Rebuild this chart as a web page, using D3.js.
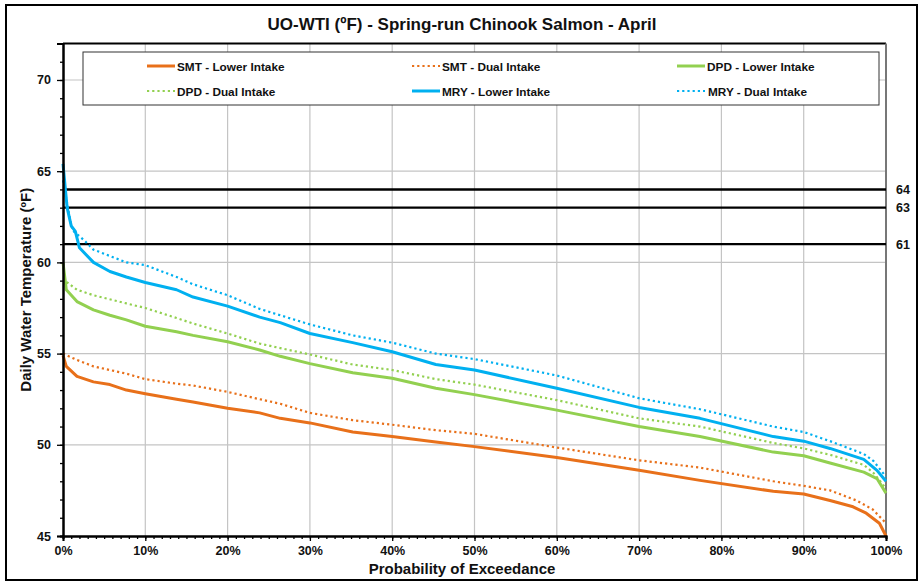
<!DOCTYPE html>
<html>
<head>
<meta charset="utf-8">
<script src="https://cdn.jsdelivr.net/npm/d3@7"></script>
<style>
  body { margin: 0; background: #fff; }
  svg { font-family: "Liberation Sans", Arial, sans-serif; font-weight: bold; }
</style>
</head>
<body>
<svg width="922" height="585"></svg>
<script>
var title = "UO-WTI (ºF) - Spring-run Chinook Salmon - April"
var xTitle = "Probability of Exceedance"
var yTitle = "Daily Water Temperature (ºF)"

// [probability of exceedance %, temperature ºF]
var smtLower = [[0,54.9],[0.4,54.3],[1.7,53.75],[3.7,53.45],[5.7,53.3],[7.7,53.0],[10,52.8],[13.8,52.5],[15.8,52.35],[20,52.0],[23.9,51.75],[26.4,51.45],[30,51.2],[35.2,50.7],[40,50.45],[45.3,50.15],[50,49.9],[60,49.3],[70,48.6],[77.4,48.05],[86.3,47.45],[90,47.3],[93.2,46.95],[96,46.6],[97.6,46.25],[99.2,45.7],[100,45.0]]
var smtDual = [[0,55.0],[1.7,54.65],[3.7,54.3],[7.7,53.9],[10,53.6],[13.8,53.35],[15.8,53.25],[20,52.9],[23.9,52.5],[26.4,52.25],[30,51.75],[35.2,51.35],[40,51.1],[45.3,50.8],[50,50.6],[60,49.85],[70,49.15],[77.4,48.75],[86.3,48.0],[90,47.75],[93.2,47.5],[96.4,46.95],[98.4,46.45],[100,45.7]]
var dpdLower = [[0,60.0],[0.4,58.5],[1.7,57.85],[3.7,57.4],[5.7,57.1],[7.7,56.85],[10,56.5],[13.8,56.2],[15.8,56.0],[20,55.65],[23.9,55.2],[26.4,54.85],[30,54.45],[35.2,53.95],[40,53.65],[45.3,53.1],[50,52.75],[60,51.9],[70,51.0],[77.4,50.45],[86.3,49.6],[90,49.4],[93.2,49.0],[97.3,48.5],[98.9,48.15],[100,47.35]]
var dpdDual = [[0,60.0],[0.2,59.0],[1.7,58.5],[3.7,58.2],[7.7,57.75],[10,57.5],[13.8,56.95],[15.8,56.65],[20,56.1],[23.9,55.55],[26.4,55.3],[30,54.95],[35.2,54.4],[40,54.1],[45.3,53.6],[50,53.3],[60,52.45],[70,51.45],[77.4,51.0],[86.3,50.1],[90,49.8],[93.2,49.45],[97.3,48.9],[98.5,48.45],[100,47.6]]
var mryLower = [[0,65.4],[0.5,63.0],[1,62.0],[1.5,61.7],[2,60.8],[3.7,60.0],[5.7,59.5],[7.7,59.2],[10,58.9],[13.8,58.5],[15.8,58.1],[20,57.6],[23.9,57.0],[26.4,56.7],[30,56.1],[35.2,55.6],[40,55.1],[45.3,54.4],[50,54.1],[60,53.1],[70,52.05],[77.4,51.45],[86.3,50.45],[90,50.2],[93.2,49.8],[97.3,49.2],[98.9,48.6],[100,48.0]]
var mryDual = [[0,64.5],[1,62.0],[1.3,61.7],[2.6,61.2],[3.7,60.7],[7.7,60.0],[10,59.85],[13.8,59.2],[15.8,58.8],[20,58.2],[23.9,57.45],[26.4,57.1],[30,56.6],[35.2,56.0],[40,55.6],[45.3,55.0],[50,54.7],[60,53.8],[70,52.55],[77.4,51.95],[86.3,51.0],[90,50.7],[93.2,50.2],[97.3,49.5],[98.5,49.1],[100,48.25]]

var seriesNames = ["SMT - Lower Intake", "SMT - Dual Intake", "DPD - Lower Intake", "DPD - Dual Intake", "MRY - Lower Intake", "MRY - Dual Intake"]
var seriesData = [smtLower, smtDual, dpdLower, dpdDual, mryLower, mryDual]
var seriesColors = ["#E8701A", "#E8701A", "#92D050", "#92D050", "#00B0F0", "#00B0F0"]
var seriesDotted = [false, true, false, true, false, true]

var thresholds = [64, 63, 61]
var xTicks = [0, 10, 20, 30, 40, 50, 60, 70, 80, 90, 100]
var yTicks = [45, 50, 55, 60, 65, 70]

var W = 922, H = 585
var margin = { top: 43.5, right: 36, bottom: 49, left: 63 }
var pw = W - margin.left - margin.right
var ph = H - margin.top - margin.bottom

var svg = d3.select("svg")

// chart border
svg.append("rect").attr("x", 6).attr("y", 5).attr("width", 911).attr("height", 575)
  .attr("fill", "#fff").attr("stroke", "#000").attr("stroke-width", 2)

var g = svg.append("g").attr("transform", "translate(" + margin.left + "," + margin.top + ")")

var x = d3.scaleLinear().domain([0, 100]).range([0, pw])
var y = d3.scaleLinear().domain([45, 72]).range([ph, 0])

// grid
g.selectAll(".vgrid").data(xTicks.slice(1, -1)).enter().append("line")
  .attr("x1", function(d) { return x(d) }).attr("x2", function(d) { return x(d) })
  .attr("y1", 0).attr("y2", ph).attr("stroke", "#c4c4c4").attr("stroke-width", 1.2)
g.selectAll(".hgrid").data(yTicks.slice(1)).enter().append("line")
  .attr("x1", 0).attr("x2", pw)
  .attr("y1", function(d) { return y(d) }).attr("y2", function(d) { return y(d) })
  .attr("stroke", "#c4c4c4").attr("stroke-width", 1.2)

// plot frame: top black, right grey
g.append("line").attr("x1", 0).attr("x2", pw).attr("y1", 0).attr("y2", 0)
  .attr("stroke", "#000").attr("stroke-width", 2)
g.append("line").attr("x1", pw).attr("x2", pw).attr("y1", 0).attr("y2", ph)
  .attr("stroke", "#777").attr("stroke-width", 2)

// legend
var legend = g.append("g")
legend.append("rect").attr("x", 83 - margin.left).attr("y", 52 - margin.top)
  .attr("width", 796).attr("height", 53).attr("fill", "#fff").attr("stroke", "#333").attr("stroke-width", 1)
var legCols = [147, 412, 677], legRows = [66, 91]
var legItems = legend.selectAll(".leg").data(seriesNames).enter().append("g")
  .attr("transform", function(d, i) {
    return "translate(" + (legCols[i % 3] - margin.left) + "," + (legRows[Math.floor(i / 3)] - margin.top) + ")"
  })
legItems.append("line").attr("x1", 0).attr("x2", 28).attr("y1", 0).attr("y2", 0)
  .attr("stroke", function(d, i) { return seriesColors[i] })
  .attr("stroke-width", function(d, i) { return seriesDotted[i] ? 2.2 : 3 })
  .attr("stroke-dasharray", function(d, i) { return seriesDotted[i] ? "2.2,3" : null })
legItems.append("text").attr("x", function(d, i) { return i == 5 ? 31 : 30 }).attr("y", 4.5)
  .attr("font-size", 11.8).attr("fill", "#111").text(function(d) { return d })

// threshold lines
g.selectAll(".thr").data(thresholds).enter().append("line")
  .attr("x1", 0).attr("x2", pw)
  .attr("y1", function(d) { return y(d) }).attr("y2", function(d) { return y(d) })
  .attr("stroke", "#000").attr("stroke-width", 2.4)
g.selectAll(".thrl").data(thresholds).enter().append("text")
  .attr("x", pw + 10).attr("y", function(d) { return y(d) + 4.5 })
  .attr("font-size", 12.5).attr("fill", "#111").text(function(d) { return d })

// series
var line = d3.line().x(function(d) { return x(d[0]) }).y(function(d) { return y(d[1]) })
var order = [1, 3, 5, 0, 2, 4]
g.selectAll(".series").data(order).enter().append("path")
  .attr("d", function(i) { return line(seriesData[i]) })
  .attr("fill", "none")
  .attr("stroke", function(i) { return seriesColors[i] })
  .attr("stroke-width", function(i) { return seriesDotted[i] ? 2.2 : 3 })
  .attr("stroke-dasharray", function(i) { return seriesDotted[i] ? "2.2,3" : null })
  .attr("stroke-linejoin", "round")

// axes
var xAxis = d3.axisBottom(x).tickValues(xTicks).tickSize(5).tickPadding(5)
  .tickFormat(function(d) { return d + "%" })
var xMinor = d3.axisBottom(x).tickValues(d3.range(0, 101, 1)).tickSize(3).tickFormat("")
var yAxis = d3.axisLeft(y).tickValues(yTicks).tickSize(6).tickPadding(6)
var yMinor = d3.axisLeft(y).tickValues(d3.range(45, 73, 1)).tickSize(3).tickFormat("")

function styleAxis(sel) {
  sel.select(".domain").attr("stroke", "#000").attr("stroke-width", 2)
  sel.selectAll(".tick line").attr("stroke", "#000").attr("stroke-width", 1.3)
  sel.selectAll("text").attr("font-size", 12.5).attr("font-weight", "bold")
    .attr("font-family", "Liberation Sans, Arial, sans-serif").attr("fill", "#111")
}
g.append("g").attr("transform", "translate(0," + ph + ")").call(xMinor).call(styleAxis)
g.append("g").attr("transform", "translate(0," + ph + ")").call(xAxis).call(styleAxis)
g.append("g").call(yMinor).call(styleAxis)
g.append("g").call(yAxis).call(styleAxis)

// titles
svg.append("text").attr("x", 462).attr("y", 30).attr("text-anchor", "middle")
  .attr("font-size", 17).attr("fill", "#111").text(title)
svg.append("text").attr("x", 462).attr("y", 574).attr("text-anchor", "middle")
  .attr("font-size", 15).attr("fill", "#111").text(xTitle)
svg.append("text").attr("transform", "translate(31," + (margin.top + ph / 2) + ") rotate(-90)")
  .attr("text-anchor", "middle").attr("font-size", 15).attr("fill", "#111").text(yTitle)
</script>
</body>
</html>
